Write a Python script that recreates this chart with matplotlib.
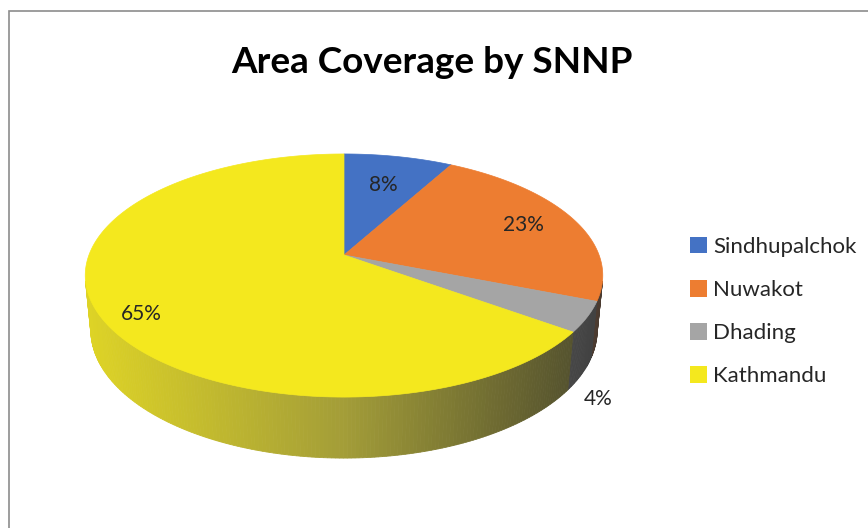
"""Area coverage by SNNP: 3-D pie with a shaded rim."""

import numpy as np
import matplotlib
matplotlib.use('Agg')
import matplotlib.pyplot as plt
from matplotlib.colors import to_rgb
from matplotlib.patches import Polygon, Patch, Rectangle

plt.rcParams['font.family'] = ['Lato', 'DejaVu Sans']

DISTRICTS = ['Sindhupalchok', 'Nuwakot', 'Dhading', 'Kathmandu']
SHARES = [8, 23, 4, 65]
COLORS = ['#4472C4', '#ED7D31', '#A5A5A5', '#F4E81E']
TITLE = 'Area Coverage by SNNP'

# label anchor per slice: (radius, height) on the disc
LABEL_POS = [(0.68, 0.0), (0.78, 0.0), (1.07, -0.33), (0.84, -0.045)]

W, H = 868, 528
CX, CY = 344, 255          # where the pie centre lands, px
FOCAL = 1339
DIST = 5.25
ELEV = np.arcsin(0.463)
THICK = 0.2436


def project(r, theta, z):
    """theta in degrees, clockwise from 12 o'clock."""
    t = np.radians(theta)
    x, y = r * np.sin(t), r * np.cos(t)
    s, c = np.sin(ELEV), np.cos(ELEV)
    d = y * c - z * s + DIST
    return CX + FOCAL * x / d, CY - FOCAL * (y * s + z * c) / d


def shade(color, t):
    base = np.array(to_rgb(color))
    a = 0.86 - 0.72 * t
    b = (12 + 29 * min(1.0, 2 * t)) / 255
    return np.clip(base * a + b, 0, 1)


fig = plt.figure(figsize=(W / 100, H / 100), dpi=100)
ax = fig.add_axes([0, 0, 1, 1])
ax.set_xlim(0, W)
ax.set_ylim(H, 0)
ax.axis('off')

total = sum(SHARES)
bounds = np.concatenate([[0], np.cumsum(SHARES) / total * 360])

# rim is visible where the outward normal faces the camera
lim = np.degrees(np.arccos(-1 / (DIST * np.cos(ELEV))))
vis0, vis1 = lim, 360 - lim

xs_all, _ = project(1.0, np.linspace(0, 360, 721), 0)
xmin, xmax = xs_all.min(), xs_all.max()

for i, col in enumerate(COLORS):
    a0, a1 = max(bounds[i], vis0), min(bounds[i + 1], vis1)
    if a1 <= a0:
        continue
    n = max(2, int((a1 - a0) / 0.75))
    th = np.linspace(a0, a1, n + 1)
    for k in range(n):
        tx0, ty0 = project(1.0, th[k], 0)
        tx1, ty1 = project(1.0, th[k + 1], 0)
        bx1, by1 = project(1.0, th[k + 1], -THICK)
        bx0, by0 = project(1.0, th[k], -THICK)
        t = ((tx0 + tx1) / 2 - xmin) / (xmax - xmin)
        fc = shade(col, t)
        ax.add_patch(Polygon([(tx0, ty0), (tx1, ty1), (bx1, by1), (bx0, by0)],
                             closed=True, facecolor=fc, edgecolor=fc, lw=0.6))

# top face
for i, col in enumerate(COLORS):
    th = np.linspace(bounds[i], bounds[i + 1], 200)
    px, py = project(1.0, th, 0)
    cx, cy = project(0.0, 0.0, 0)
    pts = np.column_stack([np.r_[cx, px], np.r_[cy, py]])
    ax.add_patch(Polygon(pts, closed=True, facecolor=col, edgecolor=col, lw=0.5))

for i, share in enumerate(SHARES):
    mid = (bounds[i] + bounds[i + 1]) / 2
    r, z = LABEL_POS[i]
    lx, ly = project(r, mid, z)
    ax.text(lx, ly, f'{share}%', ha='center', va='center',
            fontsize=15, color='#262626')

fig.text(432 / W, 1 - 73 / H, TITLE, ha='center', va='baseline',
         fontsize=26.6, fontweight='bold', color='black')

handles = [Patch(facecolor=c, edgecolor='none') for c in COLORS]
fig.legend(handles, DISTRICTS, loc='upper left',
           bbox_to_anchor=(690 / W, 1 - 237 / H), frameon=False,
           fontsize=16, handlelength=0.75, handleheight=0.75,
           handletextpad=0.3, labelspacing=1.04, borderpad=0,
           borderaxespad=0, labelcolor='#262626')

# chart frame, running off the right and bottom edges
fig.patches.append(Rectangle((9 / W, -0.2), 1.2, 1.2 - 11 / H,
                             transform=fig.transFigure, fill=False,
                             edgecolor='#8c8c8c', lw=1.2))

fig.savefig('out.png', dpi=100)
